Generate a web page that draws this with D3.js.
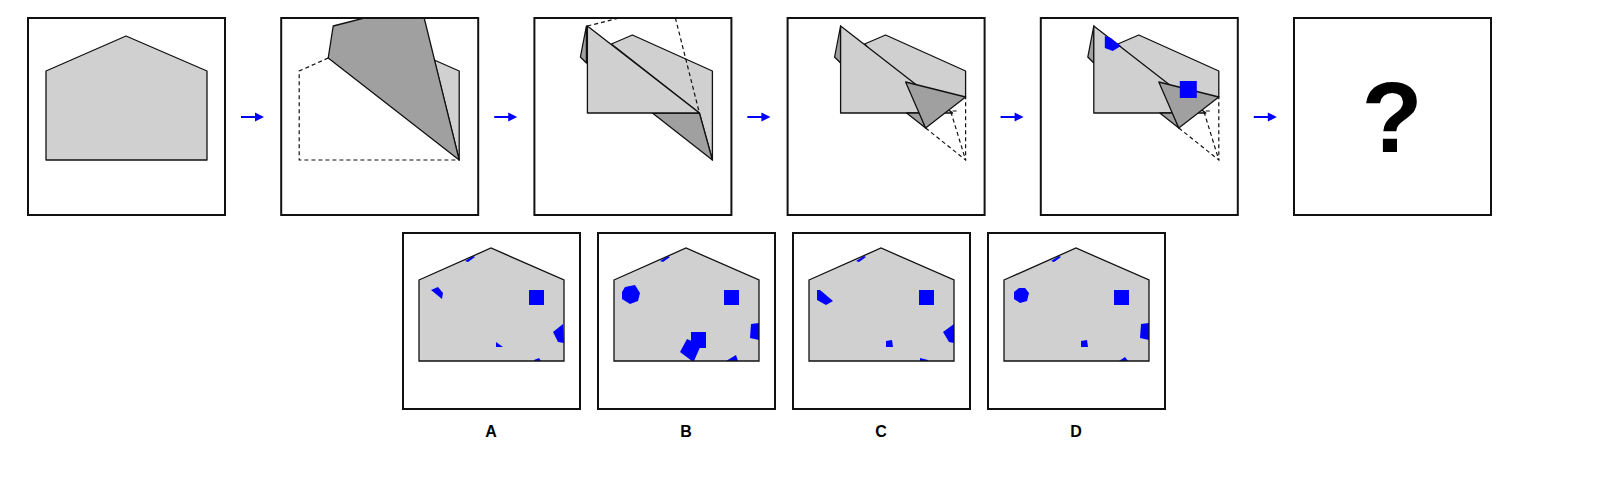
<!DOCTYPE html>
<html>
<head>
<meta charset="utf-8">
<script src="https://cdn.jsdelivr.net/npm/d3@7"></script>
<style>
  body { margin: 0; background: #fff; }
</style>
</head>
<body>
<div id="chart"></div>
<script>
// sequence panels (local coords 0..197)
const house = [[18,53],[98,18],[179,53],[179,142],[18,142]];

const panel2 = [
  {fill: '#d0d0d0', pts: [[153,42],[178,53],[178,142]]},
  {fill: '#a0a0a0', pts: [[47,40],[52,8],[83,0],[143,0],[178,142]]},
  {dash: true, pts: [[47,40],[18,53],[18,142],[178,142]]}
];
const panel3 = [
  {fill: '#a0a0a0', pts: [[52,8],[46,39],[52,45]]},
  {fill: '#d0d0d0', pts: [[77,26],[98,17],[178,53],[178,142],[165,95]]},
  {fill: '#a0a0a0', pts: [[118,95],[165,95],[178,142]]},
  {fill: '#d0d0d0', pts: [[53,8],[165,95],[53,95]]},
  {dash: true, pts: [[53,8],[85,0]]},
  {dash: true, pts: [[141,0],[165,95]]}
];
const panel4 = [
  {fill: '#a0a0a0', pts: [[53,8],[47,39],[53,45]]},
  {fill: '#d0d0d0', pts: [[77,26],[98,17],[178,53],[178,79],[140,95]]},
  {fill: '#d0d0d0', pts: [[53,8],[165,95],[53,95]]},
  {fill: '#a0a0a0', pts: [[119,95],[132,95],[138,110]]},
  {fill: '#a0a0a0', pts: [[118,64],[178,79],[138,110]]},
  {dash: true, pts: [[138,110],[178,142],[178,79]]},
  {dash: true, pts: [[169,93],[163,93],[178,142]]}
];
const panel5Blue = [
  [[64,18],[70,20],[80,28],[72,33],[64,30]],
  [[139,63],[156,63],[156,80],[139,80]]
];

// answer boxes (local coords 0..177)
const optionLabels = ['A', 'B', 'C', 'D'];
const answerHouse = [[16,47],[88,15],[161,47],[161,128],[16,128]];
const optionShapes = [
  [ // A
    [[62,28],[70,23],[72,24],[65,29]],
    [[28,57],[35,54],[40,60],[39,66]],
    [[126,57],[141,57],[141,72],[126,72]],
    [[150,99],[160,91],[161,110],[155,109]],
    [[93,109],[100,114],[93,114]],
    [[131,127],[136,125],[138,128],[131,128]]
  ],
  [ // B
    [[62,28],[70,23],[72,24],[65,29]],
    [[27,54],[37,52],[42,60],[40,68],[32,71],[24,66],[24,59]],
    [[126,57],[141,57],[141,72],[126,72]],
    [[93,99],[108,99],[108,115],[93,115]],
    [[82,119],[89,106],[103,112],[96,128],[94,128]],
    [[153,91],[161,90],[161,107],[152,105]],
    [[128,128],[138,122],[140,128]]
  ],
  [ // C
    [[63,28],[71,23],[73,24],[66,29]],
    [[24,57],[27,57],[40,68],[33,72],[24,67]],
    [[126,57],[141,57],[141,72],[126,72]],
    [[150,99],[161,91],[161,110],[156,109]],
    [[93,108],[99,107],[100,114],[93,114]],
    [[127,125],[135,127],[135,128],[127,128]]
  ],
  [ // D
    [[63,28],[71,23],[73,24],[66,29]],
    [[26,59],[31,55],[37,55],[41,60],[39,68],[32,70],[26,66]],
    [[126,57],[141,57],[141,72],[126,72]],
    [[93,108],[99,107],[100,114],[93,114]],
    [[153,91],[161,90],[161,107],[152,105]],
    [[131,128],[137,124],[140,128]]
  ]
];

const W = 1610, H = 490;
const svg = d3.select('#chart').append('svg').attr('width', W).attr('height', H);

const topX = d3.scaleLinear().domain([0, 5]).range([28, 28 + 5 * 253.2]);
const ansX = d3.scaleLinear().domain([0, 3]).range([403, 403 + 3 * 195]);
const line = d3.line();

function panel(x0, y0, w, h, id) {
  const g = svg.append('g').attr('transform', `translate(${x0},${y0})`);
  g.append('clipPath').attr('id', id).append('rect').attr('width', w).attr('height', h);
  const inner = g.append('g').attr('clip-path', `url(#${id})`);
  g.append('rect').attr('width', w).attr('height', h)
    .attr('fill', 'none').attr('stroke', '#111').attr('stroke-width', 2);
  return inner;
}

function drawShapes(g, shapes) {
  shapes.forEach(s => {
    if (s.dash) {
      g.append('path').attr('d', line(s.pts)).attr('fill', 'none')
        .attr('stroke', '#111').attr('stroke-width', 1.2).attr('stroke-dasharray', '4,3');
    } else {
      g.append('path').attr('d', line(s.pts) + 'Z').attr('fill', s.fill)
        .attr('stroke', '#111').attr('stroke-width', 1.3).attr('stroke-linejoin', 'round');
    }
  });
}

function drawBlue(g, shapes) {
  shapes.forEach(p => g.append('path').attr('d', line(p) + 'Z').attr('fill', '#0000ff'));
}

const panels = [
  [{fill: '#d0d0d0', pts: house}],
  panel2, panel3, panel4, panel4
];
panels.forEach((shapes, i) => {
  const g = panel(topX(i), 18, 197, 197, 'p' + i);
  drawShapes(g, shapes);
  if (i === 4) drawBlue(g, panel5Blue);
});
const q = panel(topX(5), 18, 197, 197, 'p5');
q.append('text').attr('x', 98).attr('y', 134).attr('text-anchor', 'middle')
  .attr('font-family', 'Liberation Sans, Arial, sans-serif').attr('font-weight', 'bold')
  .attr('font-size', 100).text('?');

// arrows
d3.range(5).forEach(i => {
  const cx = topX(i) + 197 + 28;
  svg.append('line').attr('x1', cx - 12).attr('x2', cx + 4).attr('y1', 117).attr('y2', 117)
    .attr('stroke', '#0000ff').attr('stroke-width', 2);
  svg.append('path').attr('d', line([[cx + 11, 117], [cx + 2, 112.5], [cx + 2, 121.5]]) + 'Z')
    .attr('fill', '#0000ff');
});

// answer options
optionLabels.forEach((lab, i) => {
  const g = panel(ansX(i), 233, 177, 176, 'a' + i);
  g.append('clipPath').attr('id', 'h' + i).append('path').attr('d', line(answerHouse) + 'Z');
  g.append('path').attr('d', line(answerHouse) + 'Z').attr('fill', '#d0d0d0');
  drawBlue(g.append('g').attr('clip-path', `url(#h${i})`), optionShapes[i]);
  g.append('path').attr('d', line(answerHouse) + 'Z').attr('fill', 'none')
    .attr('stroke', '#111').attr('stroke-width', 1.3);
  svg.append('text').attr('x', ansX(i) + 88).attr('y', 437).attr('text-anchor', 'middle')
    .attr('font-family', 'Liberation Sans, Arial, sans-serif').attr('font-weight', 'bold')
    .attr('font-size', 16).text(lab);
});
</script>
</body>
</html>
